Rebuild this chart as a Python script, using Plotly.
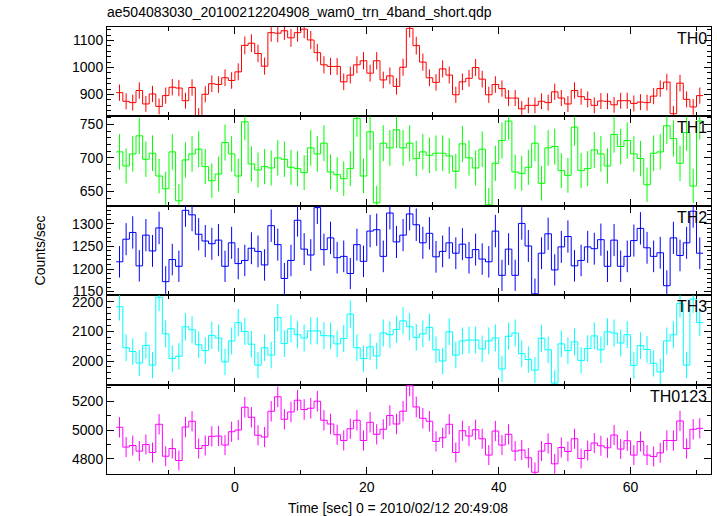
import numpy as np
import plotly.graph_objects as go
from plotly.subplots import make_subplots

# ---- data (1-s bins, time relative to 2010/02/12 20:49:08) ----
bin_start = -18.0
bin_width = 1.0

th0 = [907, 875, 870, 915, 865, 902, 856, 896, 927, 924, 877, 926, 821, 901, 940, 937, 962, 952, 984, 1082,
       1090, 1052, 1005, 1129, 1127, 1136, 1110, 1129, 1142, 1102, 1055, 1010, 1004, 1004, 947, 972, 1010, 1025, 979, 1025,
       954, 969, 930, 1001, 1145, 1081, 1020, 962, 945, 995, 972, 899, 947, 960, 1000, 957, 899, 937, 922, 887,
       887, 847, 860, 860, 875, 870, 910, 887, 865, 915, 892, 882, 860, 876, 875, 862, 877, 877, 867, 872,
       870, 894, 922, 946, 829, 942, 882, 854, 896]

th1 = [709, 688, 706, 733, 698, 707, 673, 654, 709, 636, 697, 706, 713, 687, 666, 676, 723, 706, 673, 754,
       691, 682, 687, 685, 700, 698, 686, 684, 678, 715, 706, 722, 679, 675, 669, 684, 759, 673, 739, 633,
       722, 715, 742, 715, 722, 699, 709, 704, 707, 707, 703, 680, 721, 700, 685, 713, 630, 692, 726, 755,
       679, 677, 686, 722, 662, 715, 717, 681, 674, 746, 681, 684, 712, 706, 688, 735, 717, 726, 706, 699,
       660, 707, 709, 748, 729, 692, 738, 658, 755]

th2 = [1216, 1266, 1281, 1207, 1275, 1240, 1291, 1172, 1221, 1206, 1330, 1320, 1277, 1262, 1256, 1264, 1206, 1258, 1212, 1219,
       1246, 1239, 1209, 1296, 1254, 1179, 1219, 1308, 1244, 1231, 1336, 1243, 1269, 1225, 1228, 1190, 1254, 1217, 1284, 1287,
       1228, 1324, 1260, 1275, 1322, 1298, 1258, 1279, 1227, 1239, 1258, 1235, 1255, 1225, 1243, 1222, 1216, 1284, 1186, 1244,
       1186, 1301, 1251, 1145, 1235, 1278, 1198, 1249, 1272, 1207, 1219, 1249, 1245, 1265, 1206, 1264, 1206, 1228, 1263, 1290,
       1247, 1228, 1236, 1163, 1269, 1230, 1258, 1328, 1235]

th3 = [2184, 2045, 2032, 1993, 2053, 1986, 2216, 2092, 2008, 2016, 2116, 2106, 2055, 2035, 2087, 2078, 1997, 2068, 2130, 2100,
       2057, 1986, 2045, 2020, 2147, 2059, 2109, 2089, 2078, 2102, 2102, 2086, 2085, 2058, 2076, 2159, 2045, 2008, 2048, 2017,
       2095, 2089, 2107, 2136, 2116, 2080, 2092, 2114, 2038, 2000, 2099, 2020, 2068, 2071, 2071, 2041, 2068, 2078, 1973, 2084,
       2095, 2025, 2005, 1969, 2077, 2038, 1925, 2058, 2035, 2065, 2002, 2042, 2085, 2038, 2099, 2095, 2061, 2089, 1985, 2052,
       2039, 1992, 1963, 2068, 2089, 2195, 1986, 2210, 2130]

th0123 = [5019, 4881, 4892, 4853, 4899, 4843, 5040, 4817, 4871, 4787, 5021, 5061, 4871, 4892, 4956, 4958, 4895, 4988, 5000, 5159,
          5089, 4963, 4951, 5131, 5232, 5075, 5126, 5208, 5143, 5152, 5201, 5068, 5042, 4967, 4927, 5009, 5068, 4927, 5054, 4970,
          5005, 5101, 5042, 5131, 5309, 5161, 5082, 5061, 4920, 4946, 5040, 4843, 4995, 4958, 5002, 4939, 4825, 4993, 4895, 4970,
          4853, 4860, 4806, 4705, 4853, 4906, 4764, 4878, 4850, 4939, 4801, 4857, 4909, 4890, 4876, 4965, 4867, 4925, 4825, 4920,
          4825, 4815, 4841, 4927, 4927, 5063, 4871, 5005, 5012]

band_names = ["TH0", "TH1", "TH2", "TH3", "TH0123"]
band_colors = ["#ff0000", "#00ff00", "#0000ff", "#00ffff", "#ff00ff"]
band_values = [th0, th1, th2, th3, th0123]
y_ranges = [[819, 1150], [628.5, 762], [1142, 1340], [1920, 2223], [4693, 5317]]
y_major = [100, 50, 50, 100, 200]
y_minor = [20, 10, 10, 20, 100]
x_range = [-19.4, 72.2]

title_text = "ae504083030_20100212204908_wam0_trn_4band_short.qdp"
x_title = "Time [sec] 0 = 2010/02/12 20:49:08"
y_title = "Counts/sec"

FONT = "Liberation Sans, Arial, sans-serif"

fig = make_subplots(rows=5, cols=1, shared_xaxes=True, vertical_spacing=0)

for i, (name, col, vals) in enumerate(zip(band_names, band_colors, band_values)):
    v = np.array(vals, dtype=float)
    n = len(v)
    edges = bin_start + bin_width * np.arange(n + 1)
    centers = edges[:-1] + bin_width / 2
    err = np.sqrt(v)  # Poisson errors for 1-s bins
    # step histogram
    fig.add_trace(go.Scatter(x=edges, y=np.append(v, v[-1]), mode="lines",
                             line=dict(color=col, width=1, shape="hv"),
                             hoverinfo="skip", showlegend=False), row=i + 1, col=1)
    # error bars
    fig.add_trace(go.Scatter(x=centers, y=v, mode="markers",
                             marker=dict(size=0.1, color=col, opacity=0),
                             error_y=dict(type="data", array=err, color=col, thickness=1, width=0, visible=True),
                             hoverinfo="skip", showlegend=False), row=i + 1, col=1)
    fig.update_yaxes(range=y_ranges[i], dtick=y_major[i], tick0=0,
                     ticks="inside", ticklen=7, tickcolor="black", tickwidth=1,
                     minor=dict(dtick=y_minor[i], tick0=0, ticks="inside", ticklen=4, tickcolor="black"),
                     showline=True, linecolor="black", linewidth=1, mirror="allticks",
                     showgrid=False, zeroline=False,
                     tickfont=dict(family=FONT, size=14, color="black"),
                     row=i + 1, col=1)
    fig.update_xaxes(range=x_range, dtick=20, tick0=0,
                     ticks="inside", ticklen=7, tickcolor="black", tickwidth=1,
                     minor=dict(dtick=10, tick0=0, ticks="inside", ticklen=4, tickcolor="black"),
                     showline=True, linecolor="black", linewidth=1, mirror="allticks",
                     showgrid=False, zeroline=False,
                     tickfont=dict(family=FONT, size=14, color="black"),
                     row=i + 1, col=1)
    axn = "" if i == 0 else str(i + 1)
    fig.add_annotation(text=name, xref=f"x{axn} domain", yref=f"y{axn} domain",
                       x=1, y=1, xanchor="right", yanchor="top", xshift=-2, yshift=-1,
                       showarrow=False, font=dict(family=FONT, size=16, color="black"))

fig.add_annotation(text=y_title, xref="paper", yref="paper", x=-0.111, y=0.5,
                   textangle=-90, showarrow=False, xanchor="center", yanchor="middle",
                   font=dict(family=FONT, size=14, color="black"))
fig.add_annotation(text=x_title, xref="paper", yref="paper", x=0.482, y=-0.076,
                   showarrow=False, xanchor="center", yanchor="middle",
                   font=dict(family=FONT, size=14, color="black"))

fig.update_layout(
    width=717, height=516,
    margin=dict(l=107, r=6, t=27, b=42),
    paper_bgcolor="white", plot_bgcolor="white",
    title=dict(text=title_text, xref="container", yref="container", x=107 / 717, xanchor="left",
               y=1 - 12 / 516, yanchor="middle", font=dict(family=FONT, size=14, color="black")),
    hovermode=False,
)

fig.write_html("out.html",
               config={"displayModeBar": False, "staticPlot": True},
               post_script="document.body.style.margin='0';document.body.style.overflow='hidden';")
